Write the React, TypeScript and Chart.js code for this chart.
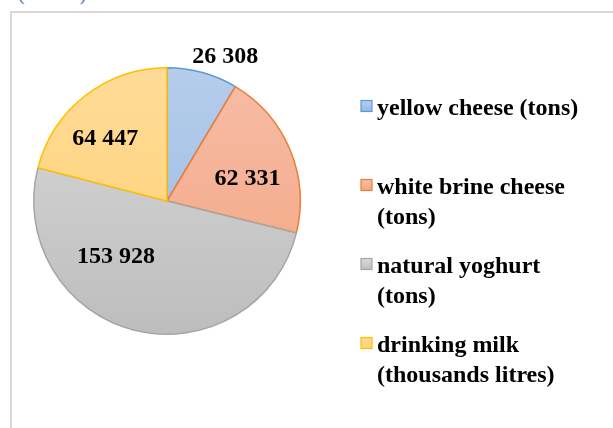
import React, { useEffect, useRef } from "react";
import { Chart, registerables } from "chart.js";

Chart.register(...registerables);

const categories: string[][] = [
  ["yellow cheese (tons)"],
  ["white brine cheese", "(tons)"],
  ["natural yoghurt", "(tons)"],
  ["drinking milk", "(thousands litres)"],
];
const values: number[] = [26308, 62331, 153928, 64447];
const fillTop: string[] = ["#b6cdea", "#f6bda8", "#d9d9d9", "#ffdb98"];
const fillBottom: string[] = ["#95b9e5", "#f4a47f", "#bdbdbd", "#ffd170"];
const borderColors: string[] = ["#5b9bd5", "#ed7d31", "#a5a5a5", "#ffc000"];
// label placement: radius fraction and angle shift (deg) from slice mid-angle
const labelRadius: number[] = [1.18, 0.63, 0.555, 0.67];
const labelShift: number[] = [6.3, 6.0, 29.5, -5.9];

const fmt = (v: number) => String(v).replace(/\B(?=(\d{3})+(?!\d))/g, " ");

const FONT = '"Liberation Serif", "Times New Roman", serif';

const decor = {
  id: "decor",
  beforeDraw(chart: any) {
    const ctx = chart.ctx;
    ctx.save();
    ctx.strokeStyle = "#d9d9d9";
    ctx.lineWidth = 2;
    ctx.beginPath();
    ctx.moveTo(11, 440);
    ctx.lineTo(11, 12);
    ctx.lineTo(620, 12);
    ctx.stroke();
    ctx.restore();
  },
  afterDraw(chart: any) {
    const ctx = chart.ctx;
    const meta = chart.getDatasetMeta(0);
    ctx.save();
    ctx.fillStyle = "#000";
    ctx.font = `bold 24px ${FONT}`;
    ctx.textAlign = "center";
    ctx.textBaseline = "middle";
    meta.data.forEach((arc: any, i: number) => {
      const p = arc.getProps(["x", "y", "startAngle", "endAngle", "outerRadius"], true);
      const mid = (p.startAngle + p.endAngle) / 2 + (labelShift[i] * Math.PI) / 180;
      const r = p.outerRadius * labelRadius[i];
      ctx.fillText(fmt(values[i]), p.x + Math.cos(mid) * r, p.y + Math.sin(mid) * r + 2);
    });
    // legend
    ctx.textAlign = "left";
    categories.forEach((lines, i) => {
      const y0 = 106 + i * 79;
      const g = ctx.createLinearGradient(0, y0 - 5, 0, y0 + 6);
      g.addColorStop(0, fillTop[i]);
      g.addColorStop(1, fillBottom[i]);
      ctx.fillStyle = g;
      ctx.fillRect(361, y0 - 5.5, 11, 11);
      ctx.strokeStyle = borderColors[i];
      ctx.lineWidth = 1.2;
      ctx.strokeRect(361, y0 - 5.5, 11, 11);
      ctx.fillStyle = "#000";
      lines.forEach((t, j) => {
        ctx.fillText(t, 377, y0 + 2.5 + j * 30);
      });
    });
    ctx.restore();
  },
};

export default function App() {
  const ref = useRef<HTMLCanvasElement>(null);
  useEffect(() => {
    const canvas = ref.current!;
    const chart = new Chart(canvas, {
      type: "pie",
      data: {
        labels: categories.map((c) => c.join(" ")),
        datasets: [
          {
            data: values,
            backgroundColor: (c: any) => {
              const ch = c.chart;
              const area = ch.chartArea;
              if (!area) return fillTop[c.dataIndex];
              const g = ch.ctx.createLinearGradient(0, area.top, 0, area.bottom);
              g.addColorStop(0, fillTop[c.dataIndex]);
              g.addColorStop(1, fillBottom[c.dataIndex]);
              return g;
            },
            borderColor: borderColors,
            borderWidth: 1.5,
            hoverOffset: 0,
          },
        ],
      },
      options: {
        responsive: false,
        animation: false,
        events: [],
        layout: { padding: { left: 33, top: 67, right: 312, bottom: 93 } },
        plugins: {
          legend: { display: false },
          tooltip: { enabled: false },
          title: { display: false },
        },
      },
      plugins: [decor],
    });
    return () => chart.destroy();
  }, []);
  return (
    <div style={{ position: "fixed", left: 0, top: 0, width: 613, height: 428, background: "#fff", overflow: "hidden" }}>
      <div
        style={{
          position: "absolute",
          left: 18,
          top: -17,
          fontFamily: FONT,
          fontSize: 20,
          lineHeight: "20px",
          color: "#4472c4",
          whiteSpace: "pre",
        }}
      >
        {"(           )"}
      </div>
      <canvas ref={ref} width={613} height={428} style={{ position: "absolute", left: 0, top: 0 }} />
    </div>
  );
}
